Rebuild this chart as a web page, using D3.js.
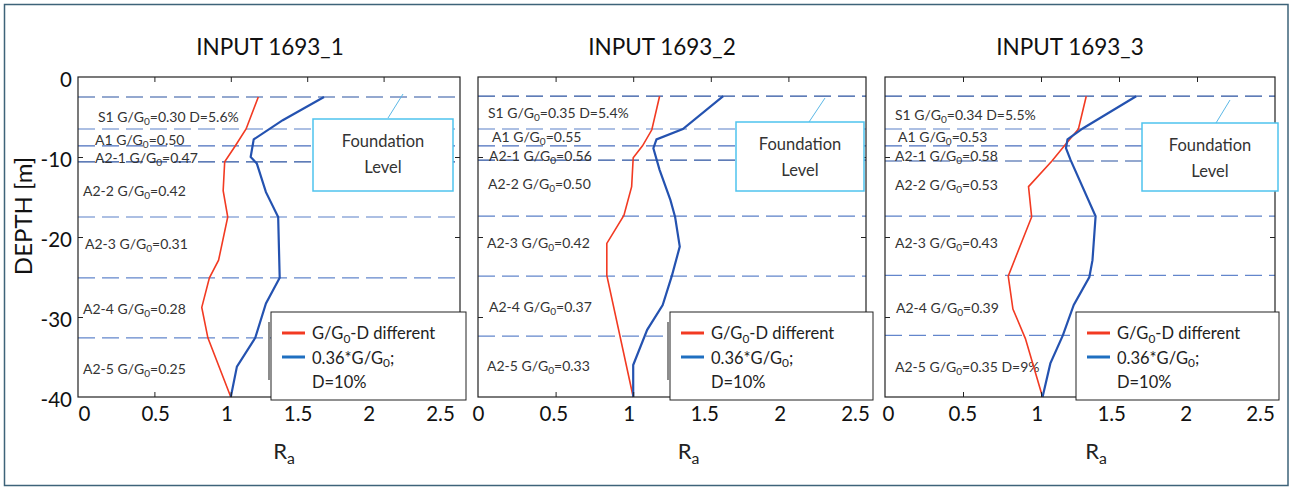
<!DOCTYPE html>
<html><head><meta charset="utf-8">
<script src="https://cdn.jsdelivr.net/npm/d3@7"></script>
<style>body{margin:0;background:#fff}svg{display:block}text{font-family:Lato,"Open Sans",sans-serif}</style>
</head><body><svg id="c" width="1290" height="489"></svg>
<script>
// ---------- DATA ----------
const titles = ["INPUT 1693_1", "INPUT 1693_2", "INPUT 1693_3"];
const xTickValues = [0, 0.5, 1, 1.5, 2, 2.5];
const yTickValues = [0, -10, -20, -30, -40];
const xLabel = "Rₐ";
const yLabel = "DEPTH [m]";
const legendLabels = ["G/G₀-D different", "0.36*G/G₀;", "D=10%"];
const noteLines = ["Foundation", "Level"];

// layer boundaries (depth, m)
const bounds1 = [-2.5, -6.5, -8.6, -10.6, -17.5, -25.1, -32.6];
const bounds2 = [-2.4, -6.5, -8.6, -10.4, -17.4, -24.9, -32.4];
const bounds3 = [-2.4, -6.5, -8.6, -10.5, -17.4, -24.8, -32.3];

// layer labels
const layers1 = ["S1 G/G₀=0.30 D=5.6%", "A1 G/G₀=0.50", "A2-1 G/G₀=0.47", "A2-2 G/G₀=0.42", "A2-3 G/G₀=0.31", "A2-4 G/G₀=0.28", "A2-5 G/G₀=0.25"];
const layers2 = ["S1 G/G₀=0.35 D=5.4%", "A1 G/G₀=0.55", "A2-1 G/G₀=0.56", "A2-2 G/G₀=0.50", "A2-3 G/G₀=0.42", "A2-4 G/G₀=0.37", "A2-5 G/G₀=0.33"];
const layers3 = ["S1 G/G₀=0.34 D=5.5%", "A1 G/G₀=0.53", "A2-1 G/G₀=0.58", "A2-2 G/G₀=0.53", "A2-3 G/G₀=0.43", "A2-4 G/G₀=0.39", "A2-5 G/G₀=0.35 D=9%"];
const layerDepth1 = [-5.0, -7.9, -10.1, -14.25, -20.9, -29.0, -36.5];
const layerDepth2 = [-4.5, -7.5, -9.9, -13.4, -20.75, -28.75, -36.1];
const layerDepth3 = [-4.75, -7.5, -9.9, -13.5, -20.75, -28.9, -36.25];

// series: [Ra, depth]
const red1 = [[1.18,-2.5],[1.10,-6.5],[1.03,-8.6],[0.96,-10.6],[0.95,-14.2],[0.98,-17.5],[0.92,-22.9],[0.86,-25.1],[0.81,-28.8],[0.85,-32.6],[1.0,-40]];
const blue1 = [[1.61,-2.5],[1.34,-5.4],[1.15,-7.8],[1.13,-10.0],[1.17,-10.8],[1.23,-14.4],[1.31,-17.5],[1.32,-25.1],[1.23,-28.3],[1.16,-32.6],[1.04,-36.2],[1.0,-40]];
const red2 = [[1.17,-2.4],[1.12,-6.6],[1.06,-8.6],[1.00,-10.1],[0.99,-13.7],[0.94,-17.3],[0.83,-20.8],[0.83,-24.8],[1.0,-40]];
const blue2 = [[1.58,-2.4],[1.32,-6.5],[1.15,-7.8],[1.13,-8.9],[1.17,-11.6],[1.24,-15.4],[1.27,-17.5],[1.30,-21.2],[1.25,-24.8],[1.19,-28.5],[1.09,-31.6],[1.0,-36.0],[1.0,-40]];
const red3 = [[1.29,-2.4],[1.24,-6.5],[1.15,-8.6],[1.07,-10.5],[0.92,-13.7],[0.94,-17.5],[0.83,-22.9],[0.79,-24.9],[0.82,-29.0],[0.90,-32.7],[1.01,-40]];
const blue3 = [[1.61,-2.4],[1.27,-6.4],[1.17,-7.8],[1.16,-8.9],[1.19,-10.4],[1.35,-17.4],[1.33,-22.9],[1.31,-25.0],[1.21,-28.5],[1.14,-32.3],[1.06,-35.8],[1.01,-40]];

// ---------- LAYOUT ----------
const layout = [
  {x0:78, x1:460, lab:[84,440], tx:270, layerX:[98,95,95,83,85,83,83], legX:271, legShadow:true, box:[313,119,453,191], lead:[[388,118],[403,94]], yLabels:true},
  {x0:478, x1:866, lab:[478,855], tx:662, layerX:[488,492,489,488,487,489,487], legX:670, legShadow:true, box:[736,122,864,191], lead:[[809,122],[825,98]], yLabels:false},
  {x0:885, x1:1275, lab:[888,1260], tx:1070, layerX:[895,898,895,895,895,896,895], legX:1076, legShadow:false, box:[1142,123,1278,191], lead:[[1216,123],[1230,100]], yLabels:false}
];
const plotTop = 77, plotBottom = 397;
const dashColors = ["#2b52a0","#5b80c8","#4a6fbd","#2b52a0","#5b80c8","#6386cc","#6386cc"];
const panelData = [
  {bounds:bounds1, layers:layers1, ld:layerDepth1, red:red1, blue:blue1},
  {bounds:bounds2, layers:layers2, ld:layerDepth2, red:red2, blue:blue2},
  {bounds:bounds3, layers:layers3, ld:layerDepth3, red:red3, blue:blue3}
];

const svg = d3.select("#c");
svg.append("rect").attr("x",4.5).attr("y",4.5).attr("width",1283.5).attr("height",481)
  .attr("fill","none").attr("stroke","#3d6379").attr("stroke-width",1.5);

function rich(t, str, fs) {
  const subs = {"₀":"0","ₐ":"a"};
  const parts = []; let buf = "";
  for (const ch of str) {
    if (subs[ch]) { if (buf) parts.push({t:buf}); parts.push({t:subs[ch], sub:true}); buf = ""; }
    else buf += ch;
  }
  if (buf) parts.push({t:buf});
  let shifted = false;
  parts.forEach(p => {
    const ts = t.append("tspan").text(p.t);
    if (p.sub) { ts.attr("font-size", fs*0.72).attr("dy", fs*0.22); shifted = true; }
    else if (shifted) { ts.attr("dy", -fs*0.22); shifted = false; }
  });
}

layout.forEach((L, i) => {
  const D = panelData[i];
  const x = d3.scaleLinear().domain([0, 2.5]).range([L.x0, L.x1]);
  const xl = d3.scaleLinear().domain([0, 2.5]).range(L.lab);
  const y = d3.scaleLinear().domain([-40, 0]).range([plotBottom, plotTop]);
  const g = svg.append("g");

  // title
  g.append("text").attr("x", L.tx).attr("y", 55).attr("text-anchor","middle")
    .attr("font-size", 22.5).attr("fill","#111").text(titles[i]);

  // dashed layer boundaries
  g.selectAll("line.b").data(D.bounds).join("line")
    .attr("x1", x(0)).attr("x2", x(2.5)).attr("y1", d => y(d)).attr("y2", d => y(d))
    .attr("stroke", (d,j) => dashColors[j]).attr("stroke-width", 1.2).attr("stroke-dasharray","17,7");

  // layer labels
  g.selectAll("text.l").data(D.layers).join("text")
    .attr("x", (d,j) => L.layerX[j]).attr("y", (d,j) => y(D.ld[j]) + 5)
    .attr("font-size", 14).attr("fill", "#333")
    .each(function(d){ rich(d3.select(this), d, 14); });

  // curves
  const line = d3.line().x(d => x(d[0])).y(d => y(d[1]));
  g.append("path").datum(D.red).attr("d", line).attr("fill","none").attr("stroke","#f23a22").attr("stroke-width",1.6);
  g.append("path").datum(D.blue).attr("d", line).attr("fill","none").attr("stroke","#2452b0").attr("stroke-width",2.2);

  // axes box
  g.append("rect").attr("x", x(0)).attr("y", plotTop).attr("width", x(2.5)-x(0)).attr("height", plotBottom-plotTop)
    .attr("fill","none").attr("stroke","#222").attr("stroke-width",1.2);
  const inner = [0.5, 1, 1.5, 2];
  const innerY = [-10, -20, -30];
  const tickStyle = s => { s.select(".domain").remove(); s.selectAll("line").attr("stroke","#222"); s.selectAll("text").remove(); };
  g.append("g").attr("transform",`translate(0,${plotBottom})`).call(d3.axisBottom(x).tickValues(inner).tickSize(-5)).call(tickStyle);
  g.append("g").attr("transform",`translate(0,${plotTop})`).call(d3.axisTop(x).tickValues(inner).tickSize(-5)).call(tickStyle);
  g.append("g").attr("transform",`translate(${x(0)},0)`).call(d3.axisLeft(y).tickValues(innerY).tickSize(-5)).call(tickStyle);
  g.append("g").attr("transform",`translate(${x(2.5)},0)`).call(d3.axisRight(y).tickValues(innerY).tickSize(-5)).call(tickStyle);

  // x tick labels
  const ax = g.append("g").attr("transform",`translate(0,${plotBottom})`)
    .call(d3.axisBottom(xl).tickValues(xTickValues).tickSize(0).tickPadding(9).tickFormat(d => String(d)));
  ax.select(".domain").remove();
  ax.selectAll("text").attr("font-size",20.5).attr("fill","#111").attr("font-family","Lato,'Open Sans',sans-serif");

  // y tick labels
  if (L.yLabels) {
    const ay = g.append("g").attr("transform",`translate(${x(0)},3)`)
      .call(d3.axisLeft(y).tickValues(yTickValues).tickSize(0).tickPadding(6).tickFormat(d => String(d)));
    ay.select(".domain").remove();
    ay.selectAll("text").attr("font-size",20.5).attr("fill","#111").attr("font-family","Lato,'Open Sans',sans-serif");
    g.append("text").attr("transform", `translate(32,216) rotate(-90)`).attr("text-anchor","middle")
      .attr("font-size", 24).attr("fill","#111").text(yLabel);
  }

  // x label
  const xt = g.append("text").attr("x", (L.lab[0]+L.lab[1])/2 + 22).attr("y", 459).attr("text-anchor","middle")
    .attr("font-size", 22).attr("fill","#222");
  rich(xt, xLabel, 22);

  // foundation note
  g.append("line").attr("x1", L.lead[0][0]).attr("y1", L.lead[0][1]).attr("x2", L.lead[1][0]).attr("y2", L.lead[1][1])
    .attr("stroke","#5cb8e6").attr("stroke-width",1);
  const [bx0, by0, bx1, by1] = L.box;
  g.append("rect").attr("x", bx0).attr("y", by0).attr("width", bx1-bx0).attr("height", by1-by0)
    .attr("fill","#fff").attr("stroke","#4fc3ee").attr("stroke-width",1.5);
  noteLines.forEach((t, j) => {
    g.append("text").attr("x", (bx0+bx1)/2).attr("y", by0 + 28 + j*26).attr("text-anchor","middle")
      .attr("font-size", 16.5).attr("fill","#333").text(t);
  });

  // legend
  const lx = L.legX, ly = 312, lw = 195 + (i>0 ? 8 : 0), lh = 88;
  if (L.legShadow) {
    g.append("line").attr("x1", lx-2).attr("x2", lx-2).attr("y1", ly+10).attr("y2", ly+68)
      .attr("stroke","#666").attr("stroke-width",1.5);
  }
  g.append("rect").attr("x", lx).attr("y", ly).attr("width", lw).attr("height", lh)
    .attr("fill","#fff").attr("stroke","#222").attr("stroke-width",1);
  const legColors = ["#f23a22", "#1f6fc0"];
  legColors.forEach((c, j) => {
    g.append("line").attr("x1", lx+11).attr("x2", lx+34).attr("y1", ly+21+j*24).attr("y2", ly+21+j*24)
      .attr("stroke", c).attr("stroke-width", 3);
  });
  legendLabels.forEach((t, j) => {
    const tt = g.append("text").attr("x", lx+41).attr("y", ly+27+j*24.5).attr("font-size",16.5).attr("fill","#222");
    rich(tt, t, 16.5);
  });
});
</script></body></html>
